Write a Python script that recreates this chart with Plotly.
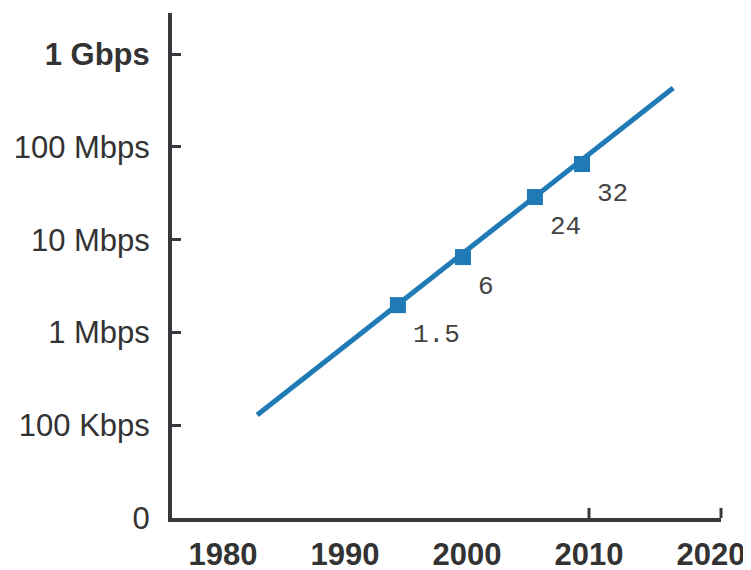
import math
import plotly.graph_objects as go

# Trend line (year, bits per second)
trend_years = [1982.8, 2016.9]
trend_bps = [1.29e5, 4.31e8]

# Marked points on the trend line and their labels
point_years = [1994.34, 1999.67, 2005.57, 2009.43]
point_bps = [1.97e6, 6.49e6, 2.88e7, 6.53e7]
point_labels = ["1.5", "6", "24", "32"]

# Axis ticks
x_tickvals = [1980, 1990, 2000, 2010, 2020]
x_ticktext = ["1980", "1990", "2000", "2010", "2020"]
y_tickvals = [1e4, 1e5, 1e6, 1e7, 1e8, 1e9]
y_ticktext = ["0", "100 Kbps", "1 Mbps", "10 Mbps", "100 Mbps", "<b>1 Gbps</b>"]

BLUE = "#1f7ab5"
DARK = "#38383d"
TEXT = "#333333"

fig = go.Figure()
fig.add_trace(go.Scatter(
    x=trend_years, y=trend_bps, mode="lines",
    line=dict(color=BLUE, width=5), showlegend=False, hoverinfo="skip"))
fig.add_trace(go.Scatter(
    x=point_years, y=point_bps, mode="markers",
    marker=dict(symbol="square", size=16, color=BLUE),
    showlegend=False))

for yr, v, lab in zip(point_years, point_bps, point_labels):
    fig.add_annotation(x=yr, y=math.log10(v), text=lab, showarrow=False,
                       xanchor="left", yanchor="top", xshift=13, yshift=-13,
                       font=dict(family="Liberation Mono", size=26, color="#444444"))

# tick marks on x axis (only at 2010 and at the axis end)
fig.add_shape(type="line", xref="x", yref="paper", x0=2010, x1=2010, y0=0, y1=0.02,
              line=dict(color=DARK, width=3))
fig.add_shape(type="line", xref="paper", yref="paper", x0=1, x1=1, y0=0, y1=0.02,
              line=dict(color=DARK, width=3))

fig.update_layout(
    width=751, height=570,
    margin=dict(l=164, r=38, t=5, b=60, autoexpand=False),
    plot_bgcolor="white", paper_bgcolor="white",
    font=dict(family="Liberation Sans", color=TEXT, size=31),
    xaxis=dict(range=[1975.82, 2020.82], tickvals=x_tickvals, ticktext=x_ticktext,
               showgrid=False, zeroline=False, showline=True, linecolor=DARK, linewidth=4,
               ticks="", ticklabelstandoff=6, automargin=False,
               tickfont=dict(family="Liberation Sans", size=31, color=TEXT, weight="bold")),
    yaxis=dict(type="log", range=[4, 9.443], tickvals=y_tickvals, ticktext=y_ticktext,
               showgrid=False, zeroline=False, showline=True, linecolor=DARK, linewidth=4,
               ticks="inside", ticklen=9, tickwidth=3, tickcolor=DARK, ticklabelstandoff=12,
               automargin=False,
               tickfont=dict(family="Liberation Sans", size=31, color=TEXT)),
)

fig.write_html("out.html")
